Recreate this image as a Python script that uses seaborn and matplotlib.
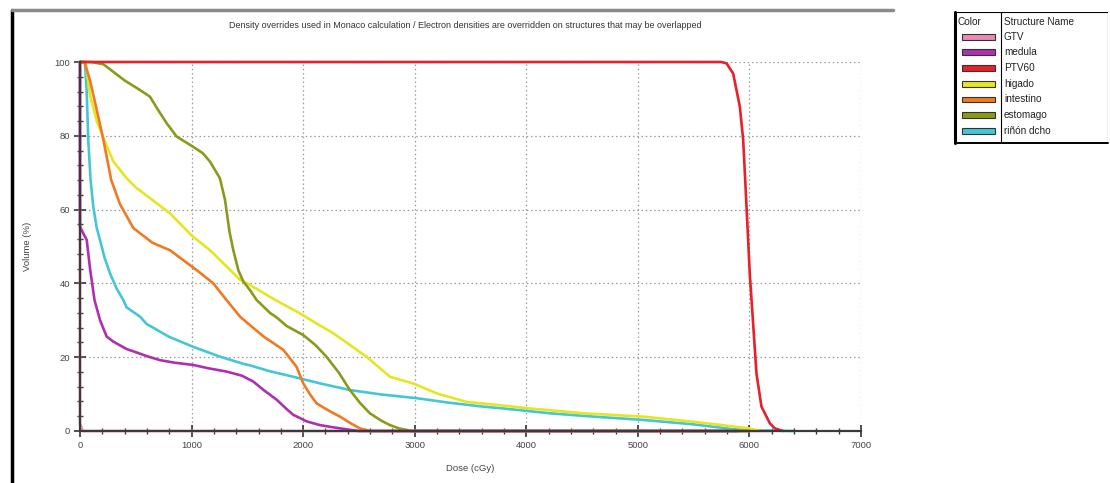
import numpy as np
import pandas as pd
import matplotlib
matplotlib.use("Agg")
import matplotlib.pyplot as plt
import seaborn as sns
from matplotlib.lines import Line2D
from matplotlib.patches import Rectangle
from matplotlib.ticker import MultipleLocator

# ---------------- data ----------------
structures = ["GTV", "medula", "PTV60", "higado", "intestino", "estomago", "riñón dcho"]
colors = ["#e98ab8", "#b02fb0", "#e8202a", "#e6e620", "#f07a22", "#8c9a1c", "#45c6d6"]

gtv_dose = [0, 0, 25, 6200]
gtv_vol = [100, 2, 0, 0]

medula_dose = [0, 0, 30, 60, 90, 130, 180, 239, 300, 418, 478, 597, 717, 850, 1015, 1150, 1314,
               1450, 1553, 1650, 1762, 1850, 1911, 2032, 2150, 2270, 2400, 2500, 5900]
medula_vol = [100, 55.4, 53.5, 51.8, 44, 35.5, 30, 25.6, 24.2, 22.2, 21.6, 20.3, 19.2, 18.5, 17.9,
              17.0, 16.1, 15.0, 13.4, 11.0, 8.5, 6.0, 4.4, 2.6, 1.6, 1.0, 0.4, 0, 0]

ptv_dose = [0, 5750, 5795, 5854, 5914, 5944, 5974, 6003, 6033, 6063, 6108, 6183, 6228, 6300]
ptv_vol = [100, 100, 99.6, 96.9, 87.9, 78.9, 60.8, 42.7, 29.2, 15.6, 6.6, 2.1, 0.7, 0]

higado_dose = [0, 50, 90, 150, 209, 300, 418, 500, 597, 806, 1000, 1165, 1300, 1434, 1523, 1750,
               1971, 2100, 2270, 2569, 2778, 2986, 3196, 3465, 3763, 4003, 4510, 5048, 5500, 6003, 6100]
higado_vol = [100, 100, 91, 84, 79.5, 73, 68.5, 66, 63.8, 59, 53, 49, 45, 41, 39.6, 35.5,
              31.9, 29.5, 26.5, 20.1, 14.7, 12.9, 10.2, 7.9, 7.0, 6.2, 4.8, 3.9, 2.5, 0.7, 0]

intestino_dose = [0, 40, 90, 150, 209, 280, 358, 478, 538, 650, 806, 926, 1050, 1195, 1300, 1434,
                  1523, 1650, 1822, 1941, 2001, 2060, 2120, 2230, 2330, 2420, 2509, 2600, 6000]
intestino_vol = [100, 100, 95, 87, 79, 68, 61.5, 55, 53.6, 51, 49, 46.3, 43.5, 40, 36, 31,
                 28.7, 25.5, 22, 17.4, 12.9, 10, 7.5, 5.5, 3.9, 2.2, 0.7, 0, 0]

estomago_dose = [0, 100, 209, 400, 538, 627, 700, 777, 866, 1015, 1100, 1165, 1254, 1300, 1340,
                 1374, 1420, 1464, 1523, 1583, 1703, 1762, 1850, 2001, 2110, 2210, 2320, 2419,
                 2510, 2598, 2700, 2778, 2860, 2927, 2970, 6000]
estomago_vol = [100, 100, 99.4, 95, 92.4, 90.6, 87, 83.4, 79.8, 77, 75.3, 73, 68.5, 62.6, 54,
                49, 43.5, 40.5, 38.2, 35.5, 32, 30.8, 28.5, 26, 23.3, 20.1, 15.8, 11.1,
                7.6, 4.8, 2.8, 1.6, 0.7, 0.3, 0, 0]

rinon_dose = [0, 30, 45, 60, 74, 95, 119, 150, 179, 220, 269, 330, 388, 418, 538, 597, 800, 1015,
              1250, 1464, 1523, 1700, 1911, 2151, 2419, 2700, 3016, 3300, 3614, 3763, 4211, 4600,
              5048, 5500, 5851, 6000, 6400]
rinon_vol = [100, 100, 99.6, 92, 78.9, 68, 60.8, 55, 51.8, 47, 42.7, 38.5, 35.5, 33.5, 31, 29,
             25.5, 22.8, 20.2, 18.2, 17.8, 16.2, 14.7, 12.9, 11.1, 9.9, 8.9, 7.7, 6.6, 6.2, 4.8,
             3.9, 3.0, 1.8, 0.5, 0.2, 0]

x_ticks = [0, 1000, 2000, 3000, 4000, 5000, 6000, 7000]
y_ticks = [0, 20, 40, 60, 80, 100]
title = ("Density overrides used in Monaco calculation / Electron densities are "
         "overridden on structures that may be overlapped")

series = {
    "GTV": (gtv_dose, gtv_vol),
    "medula": (medula_dose, medula_vol),
    "PTV60": (ptv_dose, ptv_vol),
    "higado": (higado_dose, higado_vol),
    "intestino": (intestino_dose, intestino_vol),
    "estomago": (estomago_dose, estomago_vol),
    "riñón dcho": (rinon_dose, rinon_vol),
}
rows = []
for name in structures:
    d, v = series[name]
    for x, y in zip(d, v):
        rows.append((name, x, y))
df = pd.DataFrame(rows, columns=["structure", "dose", "vol"])

# ---------------- figure ----------------
sns.set_style("white")
plt.rcParams["font.family"] = ["Liberation Sans", "DejaVu Sans"]

W, H = 1110, 483
fig = plt.figure(figsize=(W / 100, H / 100), dpi=100)
ax = fig.add_axes([80 / W, (H - 431) / H, (861 - 80) / W, (431 - 62) / H])

draw_order = ["GTV", "riñón dcho", "higado", "intestino", "estomago", "medula", "PTV60"]
sns.lineplot(data=df, x="dose", y="vol", hue="structure", hue_order=draw_order,
             palette=dict(zip(structures, colors)), estimator=None, sort=False,
             linewidth=1.9, legend=False, ax=ax)
for l in ax.lines:
    l.set_clip_on(False)
    l.set_solid_joinstyle("round")

ax.set_xlim(0, 7000)
ax.set_ylim(0, 100)
ax.set_xticks(x_ticks)
ax.set_yticks(y_ticks)
ax.xaxis.set_minor_locator(MultipleLocator(200))
ax.yaxis.set_minor_locator(MultipleLocator(4))
ax.grid(True, which="major", linestyle=(0, (1.2, 2.2)), color="#9a9a9a", linewidth=0.9)
ax.set_axisbelow(True)
for s in ["top", "right"]:
    ax.spines[s].set_visible(False)
for s in ["left", "bottom"]:
    ax.spines[s].set_color("#3a3a3a")
    ax.spines[s].set_linewidth(1.6)
ax.tick_params(which="both", bottom=True, left=True, top=False, right=False)
ax.tick_params(which="major", direction="inout", length=8, width=1.2, color="#333333",
               labelsize=6.8, labelcolor="#444444", pad=3)
ax.tick_params(which="minor", direction="inout", length=4, width=1.0, color="#333333")
ax.set_xlabel("Dose (cGy)", fontsize=6.8, color="#444444", labelpad=10)
ax.set_ylabel("Volume (%)", fontsize=6.8, color="#444444", labelpad=16)

fig.text(465 / W, 1 - 25 / H, title, ha="center", va="center", fontsize=6.5, color="#333333")

# outer frame decorations
fig.add_artist(Line2D([12 / W, 12 / W], [0, 1 - 10 / H], color="black", lw=2.5))
fig.add_artist(Line2D([12 / W, 893 / W], [1 - 10 / H, 1 - 10 / H], color="#8a8a8a", lw=2.5))

# ---------------- legend table ----------------
lx0, lx1, ly0, ly1 = 955, 1108, 12, 143
lax = fig.add_axes([lx0 / W, (H - ly1) / H, (lx1 - lx0) / W, (ly1 - ly0) / H])
lax.set_xlim(lx0, lx1)
lax.set_ylim(ly1, ly0)
lax.axis("off")
lax.add_patch(Rectangle((lx0, ly0), lx1 - lx0, ly1 - ly0, fill=False, ec="black", lw=0.8))
lax.plot([lx0, lx0], [ly0, ly1], color="black", lw=2.2, clip_on=False)
lax.plot([lx0, lx1], [ly1, ly1], color="black", lw=1.4, clip_on=False)
lax.plot([1001, 1001], [ly0, ly1], color="black", lw=0.8)
lax.text(958, 22, "Color", fontsize=7.2, va="center", ha="left", color="#222222")
lax.text(1004, 22, "Structure Name", fontsize=7.2, va="center", ha="left", color="#222222")
row_y = [37, 52, 68, 84, 99.5, 115, 131]
for name, c, yy in zip(structures, colors, row_y):
    lax.add_patch(Rectangle((962, yy - 2.8), 33, 5.6, fc=c, ec="#333333", lw=0.8))
    lax.text(1004, yy, name, fontsize=7.2, va="center", ha="left", color="#222222")

fig.savefig("out.png", dpi=100)
